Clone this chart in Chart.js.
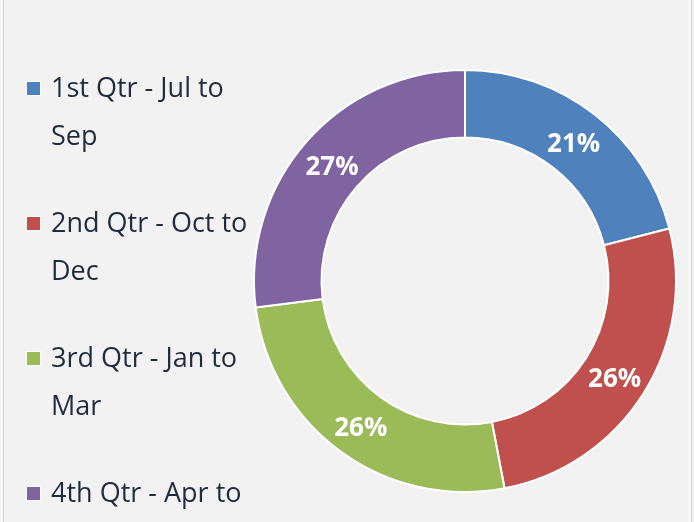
<!DOCTYPE html>
<html>
<head>
<meta charset="utf-8">
<script src="https://cdn.jsdelivr.net/npm/chart.js@4.4.0/dist/chart.umd.min.js"></script>
<style>
  html, body { margin: 0; padding: 0; background: #f2f2f2; }
  #wrap { position: relative; width: 694px; height: 522px; }
</style>
</head>
<body>
<div id="wrap"><canvas id="c" width="694" height="522"></canvas></div>
<script>
// ---- data ----
const categories = ["1st Qtr - Jul to Sep", "2nd Qtr - Oct to Dec", "3rd Qtr - Jan to Mar", "4th Qtr - Apr to Jun"];
const legendLines = [["1st Qtr - Jul to", "Sep"], ["2nd Qtr - Oct to", "Dec"], ["3rd Qtr - Jan to", "Mar"], ["4th Qtr - Apr to", "Jun"]];
const values = [21, 26, 26, 27];
const colors = ["#4f81bd", "#c0504d", "#9bbb59", "#8064a2"];

const bgPlugin = {
  id: 'bg',
  beforeDraw(chart) {
    const ctx = chart.ctx;
    ctx.save();
    ctx.fillStyle = '#f2f2f2';
    ctx.fillRect(0, 0, chart.width, chart.height);
    ctx.fillStyle = '#ffffff';
    ctx.fillRect(1, 0, 1, chart.height);
    ctx.fillRect(689, 0, 1, chart.height);
    ctx.fillStyle = '#d6d6d6';
    ctx.fillRect(3, 0, 1, chart.height);
    ctx.fillRect(691, 0, 1, chart.height);
    ctx.restore();
  }
};

const legendPlugin = {
  id: 'sideLegend',
  afterDraw(chart) {
    const ctx = chart.ctx;
    ctx.save();
    ctx.font = '27px "Open Sans"';
    ctx.textBaseline = 'alphabetic';
    ctx.textAlign = 'left';
    const startY = 97, itemGap = 135, lineGap = 48;
    legendLines.forEach((lines, i) => {
      const y = startY + i * itemGap;
      ctx.fillStyle = '#ffffff';
      ctx.fillRect(26, y - 16, 15, 15);
      ctx.fillStyle = colors[i];
      ctx.fillRect(27, y - 15, 13, 13);
      ctx.fillStyle = '#1f2c3d';
      lines.forEach((t, j) => ctx.fillText(t, 51, y + j * lineGap));
    });
    ctx.restore();
  }
};

const labelPlugin = {
  id: 'sliceLabels',
  afterDatasetsDraw(chart) {
    const ctx = chart.ctx;
    const meta = chart.getDatasetMeta(0);
    const total = values.reduce((a, b) => a + b, 0);
    ctx.save();
    ctx.font = 'bold 26px "Open Sans"';
    ctx.fillStyle = '#ffffff';
    ctx.textAlign = 'center';
    ctx.textBaseline = 'middle';
    meta.data.forEach((arc, i) => {
      const p = arc.tooltipPosition();
      const pct = Math.round(values[i] / total * 100) + '%';
      ctx.fillText(pct, p.x, p.y + 4);
    });
    ctx.restore();
  }
};

new Chart(document.getElementById('c'), {
  type: 'doughnut',
  data: {
    labels: categories,
    datasets: [{
      data: values,
      backgroundColor: colors,
      borderColor: '#ffffff',
      borderWidth: 2,
      hoverOffset: 0,
      offset: 0
    }]
  },
  options: {
    responsive: false,
    animation: false,
    cutout: '68%',
    layout: { padding: { left: 253, right: 17, top: 69, bottom: 29 } },
    plugins: {
      legend: { display: false },
      tooltip: { enabled: false }
    }
  },
  plugins: [bgPlugin, labelPlugin, legendPlugin]
});
</script>
</body>
</html>
